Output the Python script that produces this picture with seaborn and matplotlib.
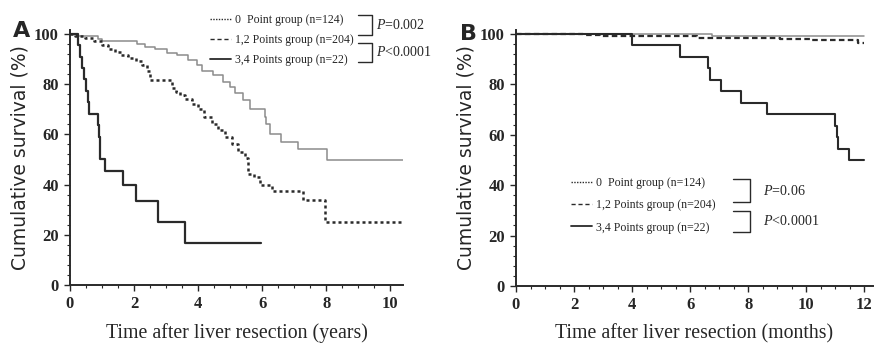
import numpy as np
import pandas as pd
import seaborn as sns
import matplotlib.pyplot as plt
from matplotlib.lines import Line2D

# panel A: years after resection
a_times_0 = [0, 0.25, 0.87, 1.0, 2.08, 2.34, 2.66, 3.02, 3.33, 3.7, 3.96, 4.12, 4.48, 4.78, 5.0, 5.16,
             5.4, 5.63, 6.1, 6.12, 6.25, 6.6, 7.13, 8.02, 10.4]
a_surv_0 = [100, 99.2, 98.0, 97.1, 96.0, 94.8, 93.9, 92.5, 91.5, 89.5, 87.6, 85.0, 83.7, 81.0, 79.0, 76.5,
            73.7, 70.0, 67.0, 64.0, 60.0, 56.9, 54.2, 49.7, 49.7]

a_times_1 = [0, 0.15, 0.47, 0.75, 0.99, 1.2, 1.4, 1.6, 1.82, 2.05, 2.24, 2.4, 2.5, 3.18, 3.3, 3.45, 3.6,
             3.8, 4.0, 4.2, 4.43, 4.62, 4.84, 5.05, 5.26, 5.45, 5.57, 5.75, 5.94, 6.3, 7.29, 7.97, 10.4]
a_surv_1 = [100, 99.2, 98.5, 97.0, 95.4, 94.0, 92.8, 91.5, 90.2, 89.0, 87.6, 85.0, 81.5, 78.5, 77.0, 75.5, 73.9,
            72.0, 70.0, 67.0, 64.0, 61.5, 58.8, 56.0, 53.0, 50.5, 44.0, 43.0, 40.0, 37.3, 34.0, 25.2, 25.2]

a_times_2 = [0, 0.25, 0.32, 0.38, 0.44, 0.5, 0.55, 0.6, 0.88, 0.9, 0.93, 0.95, 1.1, 1.67, 2.06, 2.76, 3.6, 5.95]
a_surv_2 = [100, 95.5, 90.9, 86.4, 81.8, 77.3, 72.7, 68.2, 63.6, 59.1, 54.5, 50.0, 45.5, 39.8, 33.3, 25.0, 16.7, 16.7]

# panel B: months after resection
b_times_0 = [0, 6.77, 12.0]
b_surv_0 = [100, 99.2, 99.2]

b_times_1 = [0, 2.3, 2.9, 6.25, 9.1, 10.2, 11.8, 12.0]
b_surv_1 = [100, 99.5, 99.0, 98.5, 98.0, 97.4, 96.3, 96.3]

b_times_2 = [0, 4.0, 5.65, 6.6, 6.68, 7.08, 7.75, 8.64, 11.0, 11.05, 11.1, 11.48, 11.98]
b_surv_2 = [100, 95.5, 90.9, 86.4, 81.8, 77.3, 72.7, 68.2, 63.6, 59.1, 54.5, 50.0, 50.0]

group_labels = ['0  Point group (n=124)', '1,2 Points group (n=204)', '3,4 Points group (n=22)']
p_values_a = ['$P$=0.002', '$P$<0.0001']
p_values_b = ['$P$=0.06', '$P$<0.0001']

sns.set_style('ticks')
plt.rcParams['font.family'] = ['Liberation Serif', 'DejaVu Serif']
plt.rcParams['mathtext.fontset'] = 'custom'
plt.rcParams['mathtext.it'] = 'Liberation Serif:italic'

curve_styles = [
    dict(color='#8c8c8c', linewidth=1.1, linestyle='-'),
    dict(color='#2a2a2a', linewidth=1.8, linestyle=(0, (1.2, 1.2))),
    dict(color='#2a2a2a', linewidth=1.6, linestyle='-'),
]
curve_styles_b = [
    dict(color='#8c8c8c', linewidth=1.1, linestyle='-'),
    dict(color='#2a2a2a', linewidth=1.6, linestyle=(0, (2.5, 1.5))),
    dict(color='#2a2a2a', linewidth=1.5, linestyle='-'),
]
legend_styles = [
    dict(color='#2a2a2a', linewidth=1.0, linestyle=(0, (1, 1))),
    dict(color='#2a2a2a', linewidth=1.0, linestyle=(0, (3, 2))),
    dict(color='#2a2a2a', linewidth=1.3, linestyle='-'),
]


def draw_curves(ax, times, survs, styles):
    for t, s, st in zip(times, survs, styles):
        df = pd.DataFrame({'time': t, 'survival': s})
        sns.lineplot(data=df, x='time', y='survival', ax=ax, drawstyle='steps-post',
                     estimator=None, sort=False, **st)


def style_axes(ax, xmax, xticks, xlabel):
    ax.set_xlim(0, xmax)
    ax.set_ylim(0, 101.5)
    ax.set_xticks(xticks)
    ax.set_yticks([0, 20, 40, 60, 80, 100])
    ax.set_xticks(np.arange(0, xmax, 0.5), minor=True)
    ax.set_yticks(np.arange(0, 101, 4), minor=True)
    ax.tick_params(which='major', length=4, width=1.0, labelsize=12, pad=4)
    ax.tick_params(which='minor', length=2, width=0.8)
    for lab in ax.get_xticklabels() + ax.get_yticklabels():
        lab.set_fontweight('bold')
    sns.despine(ax=ax)
    for sp in ['left', 'bottom']:
        ax.spines[sp].set_linewidth(1.4)
        ax.spines[sp].set_color('#2a2a2a')
    ax.set_xlabel(xlabel, fontsize=14.3, labelpad=8)
    ax.set_ylabel('Cumulative survival (%)', fontsize=13.5, family='DejaVu Sans', labelpad=3)


def draw_legend(ax, loc_xy, pvals, bracket_x, rows_y, fs, spacing, gap):
    handles = [Line2D([], [], **st) for st in legend_styles]
    ax.legend(handles, group_labels, loc='upper left', bbox_to_anchor=loc_xy, frameon=False,
              fontsize=fs, handlelength=1.8, handletextpad=0.3, labelspacing=spacing, borderaxespad=0,
              borderpad=0)
    bx0, bx1 = bracket_x
    for (ya, yb), p in zip(rows_y, pvals):
        ax.plot([bx0, bx1, bx1, bx0], [ya, ya, yb, yb], transform=ax.transAxes,
                color='#2a2a2a', linewidth=1.0, clip_on=False)
        ax.text(bx1 + gap, (ya + yb) / 2, p, transform=ax.transAxes, fontsize=fs + 1.5,
                va='center', ha='left')


fig = plt.figure(figsize=(8.78, 3.43), dpi=100)
ax_a = fig.add_axes([70 / 878, 1 - 285 / 343, 333 / 878, 255 / 343])
ax_b = fig.add_axes([516 / 878, 1 - 286 / 343, 357 / 878, 256 / 343])

draw_curves(ax_a, [a_times_0, a_times_1, a_times_2], [a_surv_0, a_surv_1, a_surv_2], curve_styles)
style_axes(ax_a, 10.4, [0, 2, 4, 6, 8, 10], 'Time after liver resection (years)')
draw_legend(ax_a, (0.42, 1.063), p_values_a, (0.865, 0.907),
            [(1.059, 0.98), (0.949, 0.875)], 8.5, 0.68, 0.012)

draw_curves(ax_b, [b_times_0, b_times_1, b_times_2], [b_surv_0, b_surv_1, b_surv_2], curve_styles_b)
style_axes(ax_b, 12.3, [0, 2, 4, 6, 8, 10, 12], 'Time after liver resection (months)')
draw_legend(ax_b, (0.154, 0.425), p_values_b, (0.608, 0.655),
            [(0.418, 0.328), (0.293, 0.211)], 8.6, 0.85, 0.036)

fig.text(13 / 878, 1 - 31 / 343, 'A', fontsize=16, fontweight='bold', family='DejaVu Sans', va='center')
fig.text(460 / 878, 1 - 34 / 343, 'B', fontsize=16, fontweight='bold', family='DejaVu Sans', va='center')

fig.savefig('out.png', dpi=100, facecolor='white')
